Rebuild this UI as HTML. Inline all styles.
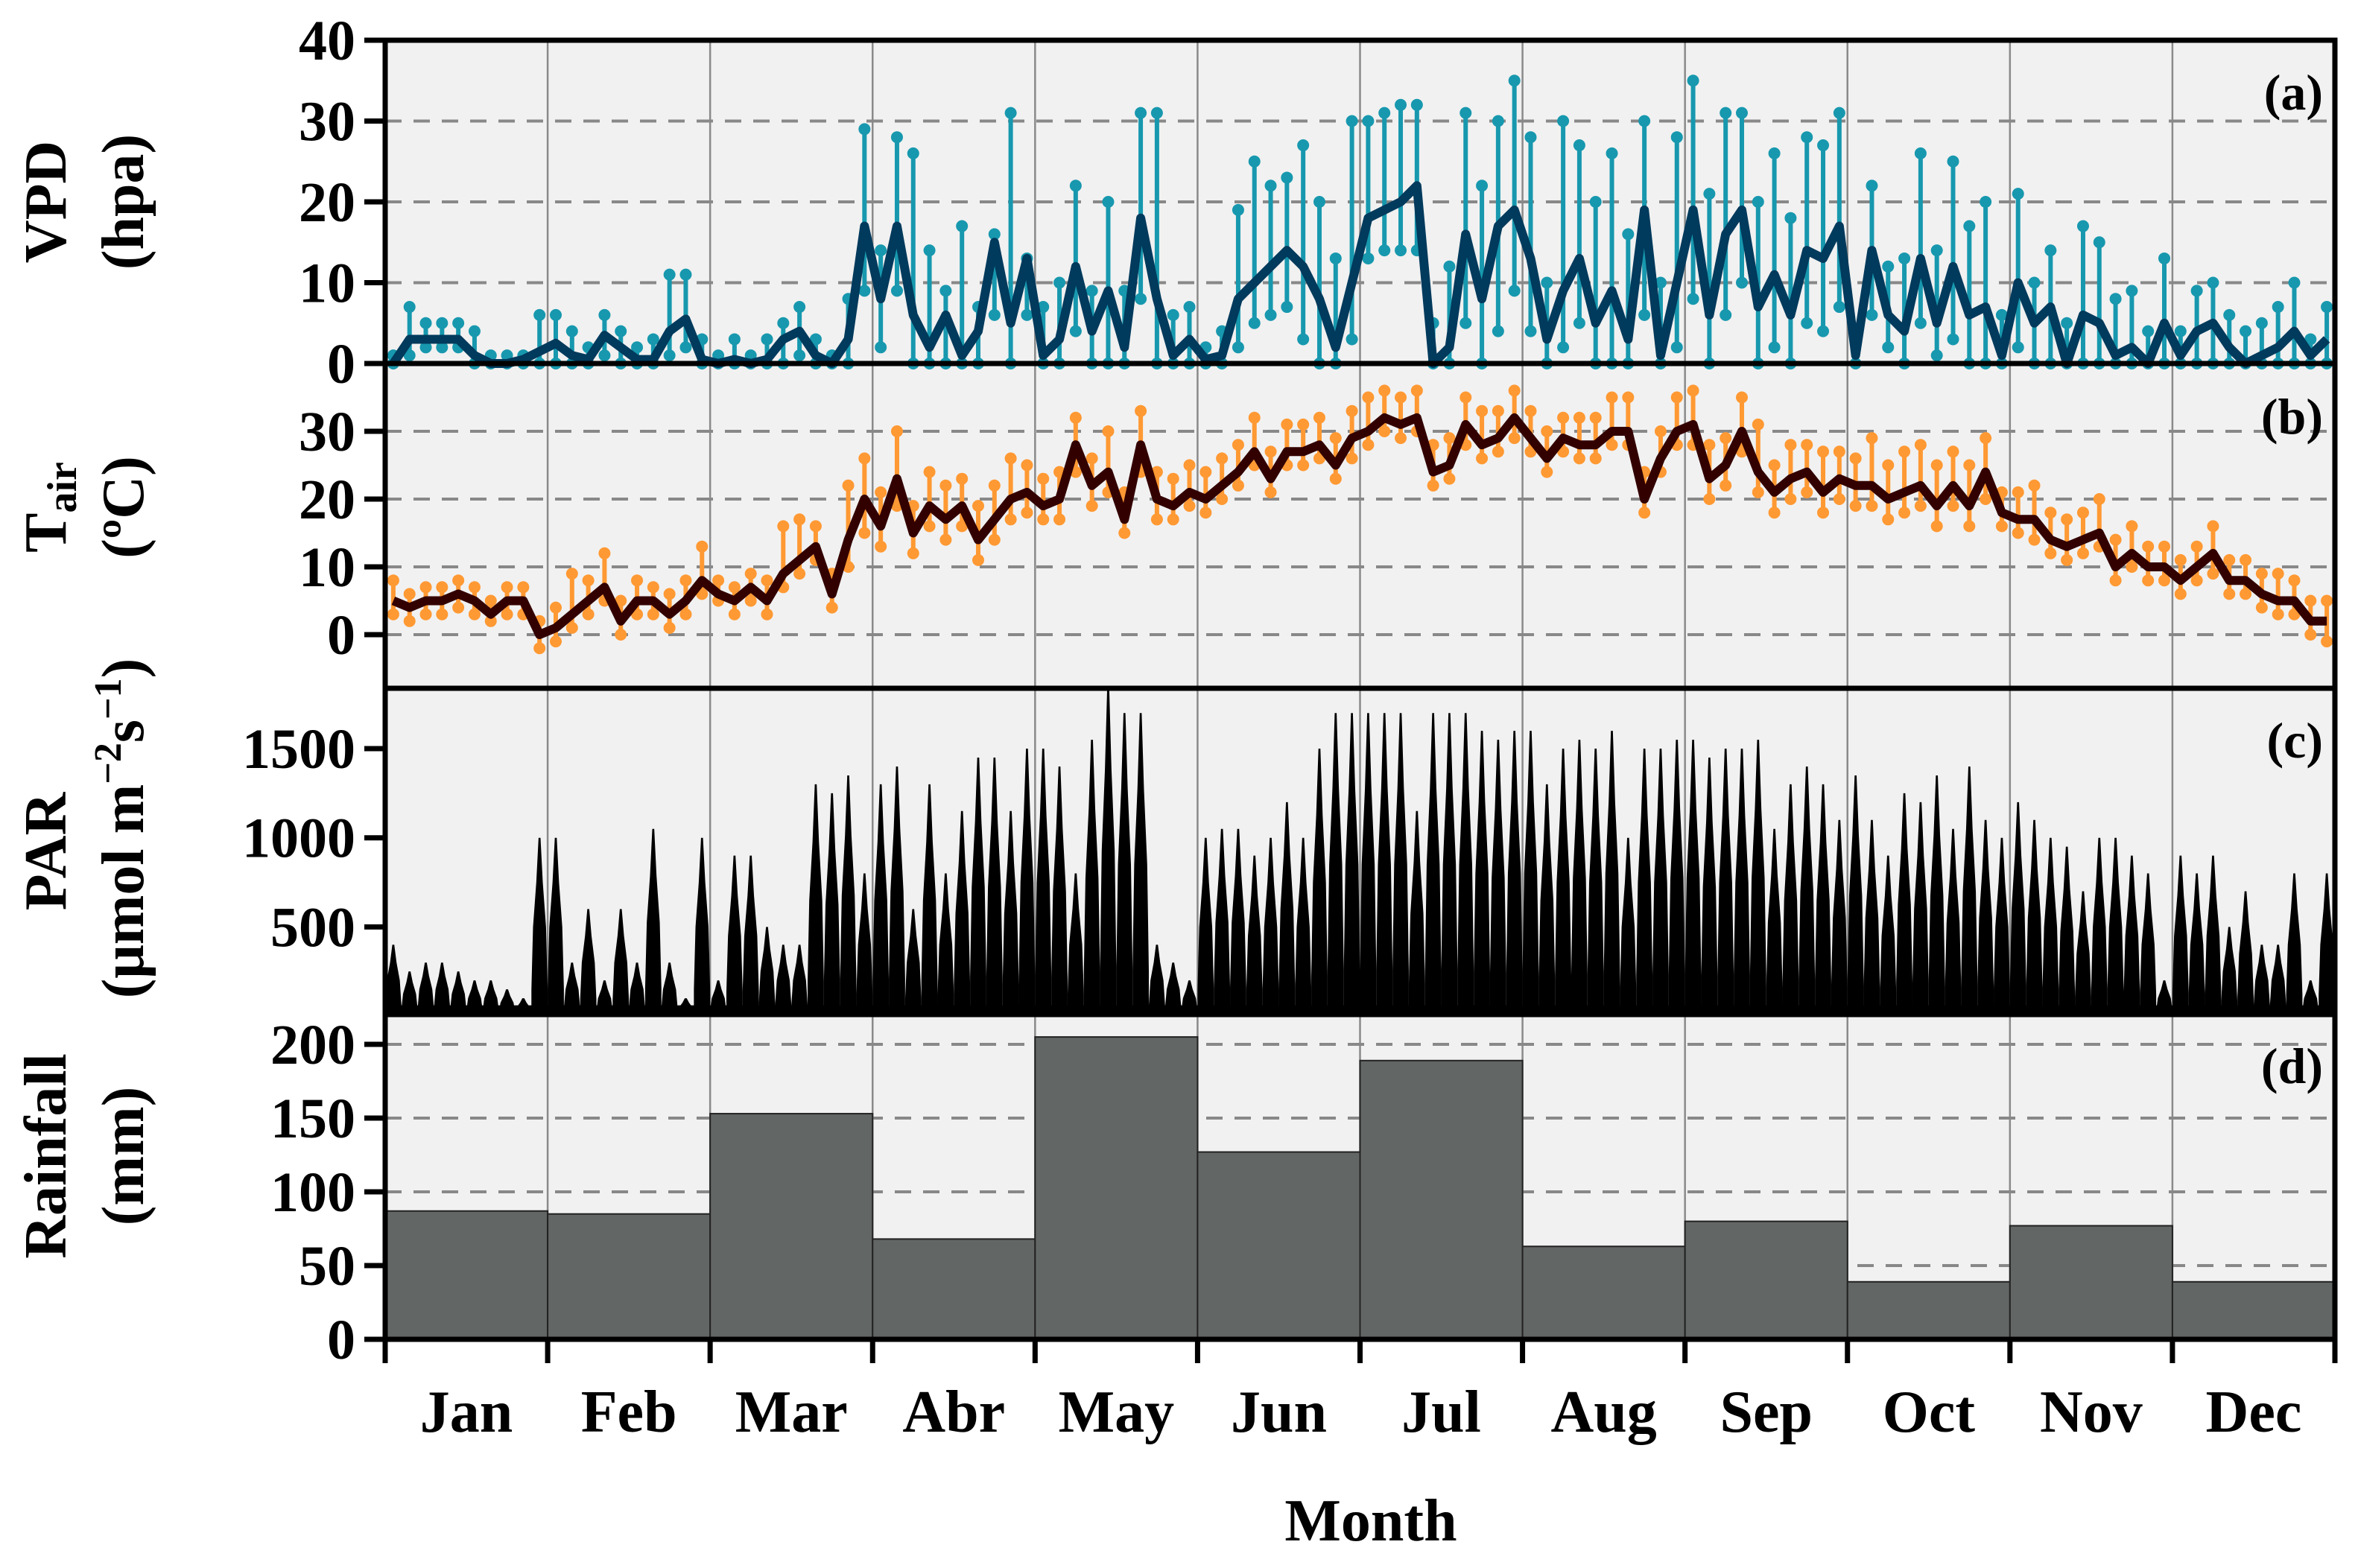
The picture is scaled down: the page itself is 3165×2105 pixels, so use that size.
<!DOCTYPE html>
<html><head><meta charset="utf-8"><style>
html,body{margin:0;padding:0;background:#fff;}
svg{display:block;font-family:"Liberation Serif",serif;font-weight:bold;}
</style></head><body>
<svg id="chart" width="3165" height="2105" viewBox="0 0 3165 2105" xmlns="http://www.w3.org/2000/svg"></svg>
<script>
const months=["Jan","Feb","Mar","Abr","May","Jun","Jul","Aug","Sep","Oct","Nov","Dec"];
const vpdMean=[0,3,3,3,3,1,0,0,0.5,1.5, 2.5,1,0.5,3.5,2,0.5,0.5,4,5.5,0.5, 0,0.5,0,0.5,3,4,1,0,3,17, 8,17,6,2,6,1,4,15,5,13, 1,3,12,4,9,2,18,8,1,3, 0.5,1,8,10,12,14,12,8,2,10, 18,19,20,22,0,2,16,8,17,19, 13,3,9,13,5,9,3,19,1,10, 19,6,16,19,7,11,6,14,13,17, 1,14,6,4,13,5,12,6,7,1, 10,5,7,0,6,5,1,2,0,5, 1,4,5,2,0,1,2,4,1,3];
const vpdMax=[1,7,5,5,5,4,1,1,1,6, 6,4,2,6,4,2,3,11,11,3, 1,3,1,3,5,7,3,1,8,29, 14,28,26,14,9,17,7,16,31,13, 7,10,22,9,20,9,31,31,6,7, 2,4,19,25,22,23,27,20,13,30, 30,31,32,32,5,12,31,22,30,35, 28,10,30,27,20,26,16,30,10,28, 35,21,31,31,20,26,18,28,27,31, 4,22,12,13,26,14,25,17,20,6, 21,10,14,5,17,15,8,9,4,13, 4,9,10,6,4,5,7,10,3,7];
const vpdMin=[0,1,2,2,2,0,0,0,0,0, 0,0,0,1,0,0,0,1,2,0, 0,0,0,0,0,1,0,0,0,9, 2,9,0,0,0,0,0,6,0,6, 0,0,4,0,0,0,8,0,0,0, 0,0,2,5,6,7,3,0,0,3, 13,14,14,14,0,0,5,0,4,9, 4,0,2,5,0,0,0,6,0,2, 8,0,6,10,0,2,0,5,4,7, 0,6,2,0,5,1,3,0,0,0, 2,0,0,0,0,0,0,0,0,0, 0,0,0,0,0,0,0,0,0,0];
const tMean=[5,4,5,5,6,5,3,5,5,0, 1,3,5,7,2,5,5,3,5,8, 6,5,7,5,9,11,13,6,14,20, 16,23,15,19,17,19,14,17,20,21, 19,20,28,22,24,17,28,20,19,21, 20,22,24,27,23,27,27,28,25,29, 30,32,31,32,24,25,31,28,29,32, 29,26,29,28,28,30,30,20,26,30, 31,23,25,30,24,21,23,24,21,23, 22,22,20,21,22,19,22,19,24,18, 17,17,14,13,14,15,10,12,10,10, 8,10,12,8,8,6,5,5,2,2];
const tMax=[8,6,7,7,8,7,5,7,7,2, 4,9,8,12,5,8,7,6,8,13, 8,7,9,8,16,17,16,9,22,26, 21,30,19,24,22,23,19,22,26,25, 23,24,32,26,30,21,33,24,23,25, 24,26,28,32,27,31,31,32,29,33, 35,36,35,36,28,29,35,33,33,36, 33,30,32,32,32,35,35,24,30,35, 36,28,29,35,31,25,28,28,27,27, 26,29,25,27,28,25,27,25,29,21, 21,22,18,17,18,20,14,16,13,13, 11,13,16,11,11,9,9,8,5,5];
const tMin=[3,2,3,3,4,3,2,3,3,-2, -1,1,3,5,0,3,3,1,3,6, 5,3,5,3,7,9,11,4,10,15, 13,19,12,16,14,16,11,14,17,18, 17,17,24,19,21,15,24,17,17,19, 18,20,22,25,21,25,25,26,23,26, 28,30,29,30,22,23,28,26,27,29, 27,24,27,26,26,28,28,18,24,28, 28,20,22,27,21,18,20,21,18,20, 19,19,17,18,19,16,19,16,20,16, 15,14,12,11,12,13,8,10,8,8, 6,8,9,6,6,4,3,3,0,-1];
const parPeak=[400,250,300,300,250,200,200,150,100,1000, 1000,300,600,200,600,300,1050,300,100,1000, 200,900,900,500,400,400,1300,1250,1350,800, 1300,1400,600,1300,800,1150,1450,1450,1150,1500, 1500,1400,800,1550,1850,1700,1700,400,300,200, 1000,1050,1050,900,1000,1200,1000,1500,1700,1700, 1700,1700,1700,1150,1700,1700,1700,1600,1550,1600, 1600,1300,1500,1550,1500,1600,1000,1500,1500,1550, 1550,1450,1500,1500,1550,1050,1300,1400,1300,1100, 1350,1100,900,1250,1200,1350,1050,1400,1100,1000, 1200,1100,1000,950,700,1000,1000,900,800,200, 900,800,900,500,700,400,400,800,200,800];
const rainfall=[87,85,153,68,205,127,189,63,80,39,77,39];
const vpdTicks=[0,10,20,30,40], tTicks=[0,10,20,30], parTicks=[500,1000,1500], rainTicks=[0,50,100,150,200];

const NS="http://www.w3.org/2000/svg";
const svg=document.getElementById('chart');
const X0=517,X1=3134;
const P={a:[54,488],b:[488,924],c:[924,1362],d:[1362,1798]};
function mk(tag,attrs,parent){const e=document.createElementNS(NS,tag);for(const k in attrs)e.setAttribute(k,attrs[k]);(parent||svg).appendChild(e);return e;}
function xIdx(i){return X0+(i+0.5)/vpdMean.length*(X1-X0);}
function xMonth(m){return X0+m/12*(X1-X0);}
function ya(v){return 488-(v/40)*(488-54);}
function yb(v){return 852-v*9.1;}
function yc(v){return 1364-v*0.2393;}
function yd(v){return 1798-v*1.98;}

const panels=[["a",P.a],["b",P.b],["c",P.c],["d",P.d]];
for(const [k,r] of panels){
  const bg=mk('rect',{x:X0,y:r[0],width:X1-X0,height:r[1]-r[0],fill:'#f1f1f1'});
  
  
  for(let m=1;m<12;m++){
    const g=mk('line',{x1:xMonth(m),x2:xMonth(m),y1:r[0],y2:r[1],stroke:'#8a8a8a','stroke-width':2.5});
    
    
  }
}
function hgrid(y){const g=mk('line',{x1:X0,x2:X1,y1:y,y2:y,stroke:'#888','stroke-width':4,'stroke-dasharray':'22,16'});
  
  }
[10,20,30].forEach(v=>hgrid(ya(v)));
tTicks.forEach(v=>hgrid(yb(v)));
[50,100,150,200].forEach(v=>hgrid(yd(v)));

// VPD
for(let i=0;i<vpdMean.length;i++){
  const x=xIdx(i);
  const l=mk('line',{x1:x,x2:x,y1:ya(vpdMin[i]),y2:ya(vpdMax[i]),stroke:'#1798ae','stroke-width':6});
  
  
  [vpdMin[i],vpdMax[i]].forEach(v=>{const c=mk('circle',{cx:x,cy:ya(v),r:8,fill:'#1798ae'});
    
    });
}
const vl=mk('polyline',{points:vpdMean.map((v,i)=>xIdx(i)+','+ya(v)).join(' '),fill:'none',stroke:'#003a5c','stroke-width':12,'stroke-linejoin':'round'});



// Tair
for(let i=0;i<tMean.length;i++){
  const x=xIdx(i);
  const l=mk('line',{x1:x,x2:x,y1:yb(tMin[i]),y2:yb(tMax[i]),stroke:'#ff9933','stroke-width':6});
  
  
  [tMin[i],tMax[i]].forEach(v=>{const c=mk('circle',{cx:x,cy:yb(v),r:8,fill:'#ff9933'});
    
    });
}
const tl=mk('polyline',{points:tMean.map((v,i)=>xIdx(i)+','+yb(v)).join(' '),fill:'none',stroke:'#330000','stroke-width':12,'stroke-linejoin':'round'});



// PAR
const w=(X1-X0)/parPeak.length;
const base=mk('rect',{x:X0,y:yc(60),width:X1-X0,height:1362-yc(60),fill:'#000'});


for(let i=0;i<parPeak.length;i++){
  const x=xIdx(i), yt=yc(parPeak[i]), yb0=1362;
  const p=mk('polygon',{points:[x-w/2,yb0, x-w/2,yc(parPeak[i]*0.15), x-w*0.4,yc(parPeak[i]*0.5), x-w*0.2,yc(parPeak[i]*0.75), x-w*0.06,yt, x+w*0.06,yt, x+w*0.2,yc(parPeak[i]*0.75), x+w*0.4,yc(parPeak[i]*0.5), x+w/2,yc(parPeak[i]*0.15), x+w/2,yb0].join(' '),fill:'#000'});
  
  
}

// Rainfall
rainfall.forEach((v,m)=>{
  const r=mk('rect',{x:xMonth(m),y:yd(v),width:xMonth(m+1)-xMonth(m),height:1798-yd(v),fill:'#626664',stroke:'#222','stroke-width':2});
  
  
});

for(const [k,r] of panels){
  const f=mk('rect',{x:X0,y:r[0],width:X1-X0,height:r[1]-r[0],fill:'none',stroke:'#000','stroke-width':7});
  
  
}
function ytick(y,label,name){
  const t=mk('line',{x1:X0-28,x2:X0,y1:y,y2:y,stroke:'#000','stroke-width':7});
  
  
  const tx=mk('text',{x:X0-40,y:y+26,'text-anchor':'end','font-size':76});
  tx.textContent=label;
  
  
}
vpdTicks.forEach(v=>ytick(ya(v),v,'vpd-axis'));
tTicks.forEach(v=>ytick(yb(v),v,'tair-axis'));
parTicks.forEach(v=>ytick(yc(v),v,'par-axis'));
rainTicks.forEach(v=>ytick(yd(v),v,'rainfall-axis'));
for(let m=0;m<=12;m++){
  const t=mk('line',{x1:xMonth(m),x2:xMonth(m),y1:1798,y2:1830,stroke:'#000','stroke-width':7});
  
  
}
months.forEach((mn,m)=>{
  const t=mk('text',{x:(xMonth(m)+xMonth(m+1))/2,y:1922,'text-anchor':'middle','font-size':80});
  t.textContent=mn;
  
  
});
const mt=mk('text',{x:1840,y:2068,'text-anchor':'middle','font-size':80});
mt.textContent='Month';



[["(a)",125,"a"],["(b)",560,"b"],["(c)",995,"c"],["(d)",1432,"d"]].forEach(([s,y,k])=>{
  const t=mk('text',{x:3118,y:y+22,'text-anchor':'end','font-size':68});
  t.textContent=s;
  
  
});
</script>
<svg style="position:absolute;left:0;top:0" width="400" height="1900" xmlns="http://www.w3.org/2000/svg">
 <g font-family="Liberation Serif, serif" font-weight="bold" font-size="80" text-anchor="middle">
  <text transform="translate(88,271) rotate(-90)">VPD</text>
  <text transform="translate(192,271) rotate(-90)">(hpa)</text>
  <text transform="translate(88,681) rotate(-90)">T<tspan font-size="56" dy="14">air</tspan></text>
  <text transform="translate(192,681) rotate(-90)">(ºC)</text>
  <text transform="translate(88,1143) rotate(-90)">PAR</text>
  <text transform="translate(192,1112) rotate(-90)">(μmol m<tspan font-size="52" dy="-30">−2</tspan><tspan dy="30">s</tspan><tspan font-size="52" dy="-30">−1</tspan><tspan dy="30">)</tspan></text>
  <text transform="translate(88,1552) rotate(-90)">Rainfall</text>
  <text transform="translate(192,1552) rotate(-90)">(mm)</text>
 </g>
</svg>
</body></html>
